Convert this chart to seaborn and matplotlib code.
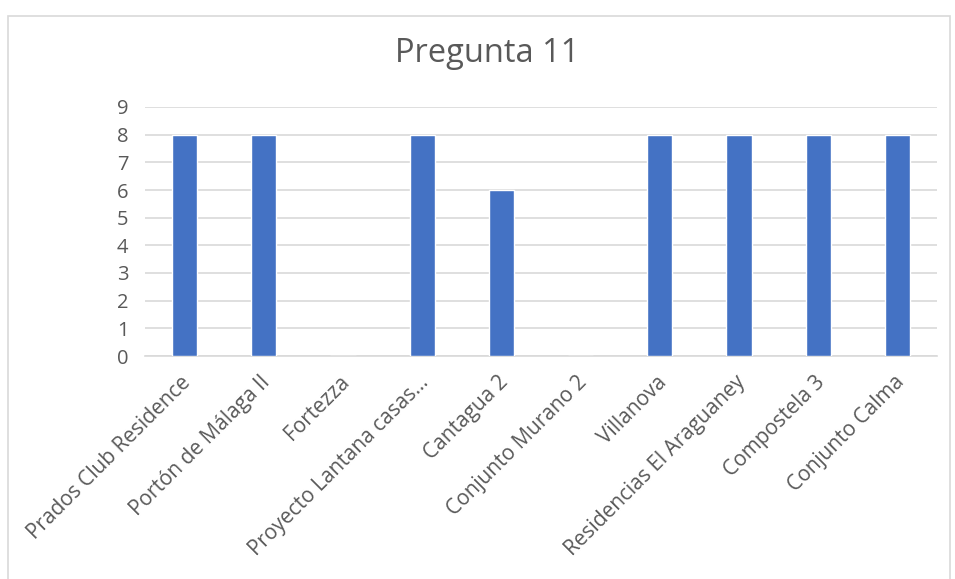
import matplotlib
matplotlib.use("Agg")
import matplotlib.pyplot as plt
import matplotlib.transforms as mtransforms
import seaborn as sns
import pandas as pd
from matplotlib.patches import Rectangle

categories = ["Prados Club Residence", "Portón de Málaga II", "Fortezza",
              "Proyecto Lantana casas...", "Cantagua 2", "Conjunto Murano 2",
              "Villanova", "Residencias El Araguaney", "Compostela 3", "Conjunto Calma"]
values = [8, 8, 0, 8, 6, 0, 8, 8, 8, 8]
yticks = list(range(0, 10))
title = "Pregunta 11"

sns.set_theme(style="white")
plt.rcParams['font.family'] = ['Open Sans', 'DejaVu Sans']

df = pd.DataFrame({"cat": categories, "val": values})

fig = plt.figure(figsize=(9.55, 5.79), dpi=100)
ax = fig.add_axes([145/955, 1-356/579, (937-145)/955, (356-107)/579])
sns.barplot(data=df, x="cat", y="val", color="#4472C4", saturation=1,
            width=0.32, ax=ax, zorder=3)
ax.set_ylim(0, 9)
ax.set_xlim(-0.5, len(categories)-0.5)
ax.set_yticks(yticks)
ax.set_yticklabels([str(t) for t in yticks], fontsize=14.5, color="#595959")
ax.yaxis.grid(True, color="#D9D9D9", linewidth=1.2, zorder=0)
ax.set_axisbelow(True)
for s in ["top", "right", "left"]:
    ax.spines[s].set_visible(False)
ax.spines["bottom"].set_color("#D9D9D9")
ax.spines["bottom"].set_linewidth(1.2)
ax.tick_params(axis="both", length=0)
ax.tick_params(axis="y", pad=12)
ax.set_xlabel("")
ax.set_ylabel("")
ax.tick_params(axis="x", pad=10)
offset = mtransforms.ScaledTranslation(-4/100, -2/100, fig.dpi_scale_trans)
for lbl in ax.get_xticklabels():
    lbl.set_rotation(45)
    lbl.set_ha("right")
    lbl.set_rotation_mode("anchor")
    lbl.set_fontsize(15)
    lbl.set_color("#595959")
    lbl.set_transform(lbl.get_transform() + offset)
fig.text(487/955, 1-53/579, title, ha="center", va="center", fontsize=23.5, color="#595959")
fig.patches.append(Rectangle((8/955, -10/579), (950-8)/955, (571+10-8)/579,
                             transform=fig.transFigure, fill=False,
                             edgecolor="#D9D9D9", linewidth=1.2))
fig.savefig("out.png", dpi=100)
